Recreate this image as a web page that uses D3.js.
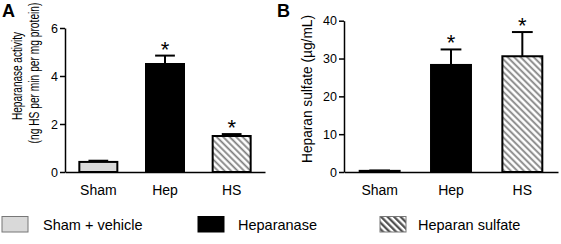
<!DOCTYPE html>
<html lang="en">
<head>
    <meta charset="UTF-8">
    <script src="https://d3js.org/d3.v7.min.js"></script>
    <style>
        body {
            margin: 0;
            background: #fff;
            font-family: "Liberation Sans", Arial, Helvetica, sans-serif;
        }
        .axis path, .axis line {
            stroke: #000;
            stroke-width: 1.5px;
        }
        .axis text {
            fill: #000;
        }
    </style>
</head>
<body>
    <svg id="chart"></svg>

    <script>
        // data
        const groups = ["Sham", "Hep", "HS"];
        const activityMean = [0.42, 4.5, 1.5];
        const activityErr = [0.05, 0.35, 0.08];
        const sulfateMean = [0.3, 28.3, 30.6];
        const sulfateErr = [0.1, 4.1, 6.4];
        const starred = [false, true, true];
        const activityTicks = [0, 2, 4, 6];
        const sulfateTicks = [0, 10, 20, 30, 40];
        const legendLabels = ["Sham + vehicle", "Heparanase", "Heparan sulfate"];

        const width = 561, height = 244;
        const fills = ["#d9d9d9", "#000", "url(#hatch)"];

        const svg = d3.select("#chart")
            .attr("width", width)
            .attr("height", height);

        const defs = svg.append("defs");
        function hatch(id, color, sw) {
            const p = defs.append("pattern")
                .attr("id", id)
                .attr("patternUnits", "userSpaceOnUse")
                .attr("width", 4.6)
                .attr("height", 4.6)
                .attr("patternTransform", "rotate(-45)");
            p.append("rect").attr("width", 4.6).attr("height", 4.6).attr("fill", "#fff");
            p.append("line")
                .attr("x1", 1.2).attr("y1", 0).attr("x2", 1.2).attr("y2", 4.6)
                .attr("stroke", color).attr("stroke-width", sw);
        }
        hatch("hatch", "#808080", 1.8);
        hatch("hatchDark", "#4a4a4a", 2.2);

        function panel(opts) {
            const { xRange, yRange, domain, ticks, means, errs, letter, letterX, titleLines } = opts;

            const x = d3.scaleBand()
                .domain(groups)
                .range(xRange)
                .paddingInner(opts.pad)
                .paddingOuter(opts.pad / 2);

            const y = d3.scaleLinear()
                .domain(domain)
                .range(yRange);

            const g = svg.append("g");

            // bars
            g.selectAll(".bar")
                .data(groups)
                .enter().append("rect")
                .attr("class", "bar")
                .attr("x", d => x(d))
                .attr("y", (d, i) => y(means[i]))
                .attr("width", x.bandwidth())
                .attr("height", (d, i) => y(0) - y(means[i]))
                .attr("fill", (d, i) => fills[i])
                .attr("stroke", "#000")
                .attr("stroke-width", 2);

            // error bars (upper only)
            const cap = x.bandwidth() * 0.26;
            groups.forEach((d, i) => {
                const cx = x(d) + x.bandwidth() / 2;
                const top = y(means[i] + errs[i]);
                g.append("line")
                    .attr("x1", cx).attr("x2", cx)
                    .attr("y1", y(means[i])).attr("y2", top)
                    .attr("stroke", "#000").attr("stroke-width", 2);
                g.append("line")
                    .attr("x1", cx - cap).attr("x2", cx + cap)
                    .attr("y1", top).attr("y2", top)
                    .attr("stroke", "#000").attr("stroke-width", 2);
                if (starred[i]) {
                    g.append("text")
                        .attr("x", cx)
                        .attr("y", top + 1)
                        .attr("text-anchor", "middle")
                        .style("font-size", "22px")
                        .text("*");
                }
            });

            // axes
            g.append("g")
                .attr("class", "axis")
                .attr("transform", `translate(${xRange[0]},0)`)
                .call(d3.axisLeft(y).tickValues(ticks).tickFormat(d3.format("d"))
                    .tickSize(5).tickSizeOuter(0).tickPadding(2))
                .selectAll("text")
                .style("font-size", "12.5px")
                .style("font-family", "'Liberation Sans', Arial, sans-serif");

            g.append("g")
                .attr("class", "axis")
                .attr("transform", `translate(0,${yRange[0]})`)
                .call(d3.axisBottom(x).tickSize(0).tickPadding(13))
                .selectAll("text")
                .style("font-size", "14px")
                .style("font-family", "'Liberation Sans', Arial, sans-serif");

            // y title, squeezed along its length like the original
            titleLines.forEach(t => {
                const txt = g.append("text")
                    .attr("text-anchor", "middle")
                    .style("font-size", "14px")
                    .text(t.text);
                const k = t.len / txt.node().getComputedTextLength();
                txt.attr("transform", `translate(${t.x},${t.cy}) rotate(-90) scale(${k},1)`);
            });

            // panel letter
            g.append("text")
                .attr("x", letterX)
                .attr("y", 17)
                .style("font-size", "18px")
                .style("font-weight", "bold")
                .text(letter);
        }

        panel({
            xRange: [65, 265], yRange: [172, 28], domain: [0, 6], pad: 0.43,
            ticks: activityTicks, means: activityMean, errs: activityErr,
            letter: "A", letterX: 2,
            titleLines: [
                { text: "Heparanase activity", x: 22, cy: 76, len: 88 },
                { text: "(ng HS per min per mg protein)", x: 39, cy: 73, len: 141 }
            ]
        });

        panel({
            xRange: [344, 558], yRange: [172, 20.7], domain: [0, 40], pad: 0.44,
            ticks: sulfateTicks, means: sulfateMean, errs: sulfateErr,
            letter: "B", letterX: 277,
            titleLines: [
                { text: "Heparan sulfate (\u00b5g/mL)", x: 312, cy: 89, len: 148 }
            ]
        });

        // legend
        const legendX = [2, 198, 380];
        const legendTextX = [43, 238, 418];
        const legendFill = ["#d9d9d9", "#000", "url(#hatchDark)"];
        const legendStroke = ["#777", "#000", "#777"];
        const leg = svg.append("g");
        leg.selectAll("rect")
            .data(legendLabels)
            .enter().append("rect")
            .attr("x", (d, i) => legendX[i])
            .attr("y", 216.5)
            .attr("width", 26)
            .attr("height", 15.5)
            .attr("fill", (d, i) => legendFill[i])
            .attr("stroke", (d, i) => legendStroke[i])
            .attr("stroke-width", 1);
        leg.selectAll("text")
            .data(legendLabels)
            .enter().append("text")
            .attr("x", (d, i) => legendTextX[i])
            .attr("y", 229.5)
            .style("font-size", "14.5px")
            .text(d => d);
    </script>
</body>
</html>
